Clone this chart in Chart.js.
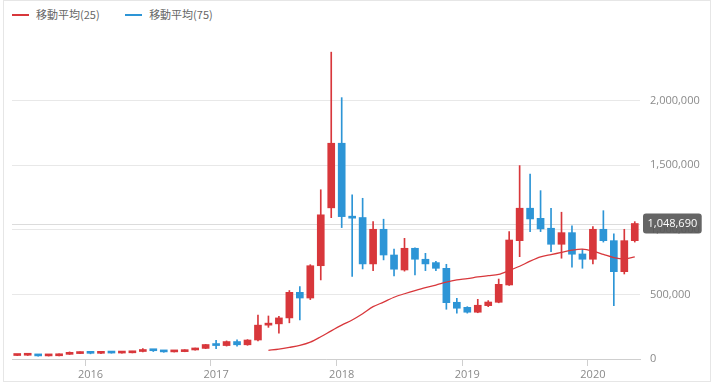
<!DOCTYPE html>
<html>
<head>
<meta charset="utf-8">
<script src="https://cdn.jsdelivr.net/npm/chart.js@4.4.1/dist/chart.umd.min.js"></script>
<style>
  body { margin: 0; background: #fff; }
  #panel {
    position: absolute; left: 3px; top: 0; width: 708px; height: 382px;
    border: 1px solid #e6e6e6; box-sizing: border-box;
  }
  #legend {
    position: absolute; left: 12px; top: 6px;
    font: 11px "Noto Sans CJK JP", sans-serif; color: #666;
  }
  #legend span.item { display: inline-block; margin-right: 23px; }
  #legend span.swatch {
    display: inline-block; width: 17px; height: 1.5px; margin-right: 7px;
    vertical-align: middle; position: relative; top: -1px;
  }
  canvas { position: absolute; left: 0; top: 0; }
</style>
</head>
<body>
<div id="panel"></div>
<div id="legend">
  <span class="item"><span class="swatch" style="background:#d8373b"></span>移動平均(25)</span>
  <span class="item"><span class="swatch" style="background:#2d95d6"></span>移動平均(75)</span>
</div>
<canvas id="chart" width="718" height="385"></canvas>
<script>
// monthly candles, JPY
const months = [
  '2015-06', '2015-07', '2015-08', '2015-09', '2015-10', '2015-11', '2015-12',
  '2016-01', '2016-02', '2016-03', '2016-04', '2016-05', '2016-06',
  '2016-07', '2016-08', '2016-09', '2016-10', '2016-11', '2016-12',
  '2017-01', '2017-02', '2017-03', '2017-04', '2017-05', '2017-06',
  '2017-07', '2017-08', '2017-09', '2017-10', '2017-11', '2017-12',
  '2018-01', '2018-02', '2018-03', '2018-04', '2018-05', '2018-06',
  '2018-07', '2018-08', '2018-09', '2018-10', '2018-11', '2018-12',
  '2019-01', '2019-02', '2019-03', '2019-04', '2019-05', '2019-06',
  '2019-07', '2019-08', '2019-09', '2019-10', '2019-11', '2019-12',
  '2020-01', '2020-02', '2020-03', '2020-04', '2020-05'
];

const opens = [
  27000, 29000, 31000, 24000, 25000, 36000, 42000,
  50000, 44000, 48000, 46000, 48000, 58000,
  68000, 64000, 55000, 57000, 70000, 82000,
  110000, 104000, 135000, 110000, 147000, 262000,
  272000, 318000, 516000, 472000, 722000, 1170000,
  1670000, 1102000, 1095000, 736000, 1004000, 805000,
  689000, 857000, 772000, 746000, 702000, 439000,
  400000, 362000, 413000, 439000, 573000, 916000,
  1167000, 1089000, 1012000, 888000, 978000, 813000,
  772000, 1004000, 916000, 676000, 916000
];
const highs = [
  30000, 36000, 32000, 27000, 40000, 55000, 55000,
  52000, 50000, 49000, 50000, 60000, 80000,
  72000, 65000, 63000, 72000, 84000, 113000,
  145000, 140000, 148000, 150000, 340000, 333000,
  330000, 530000, 560000, 730000, 1310000, 2375000,
  2023000, 1270000, 1244000, 1063000, 1082000, 850000,
  934000, 860000, 818000, 756000, 733000, 470000,
  405000, 462000, 452000, 619000, 986000, 1497000,
  1432000, 1303000, 1167000, 1136000, 1030000, 849000,
  1024000, 1148000, 968000, 1004000, 1063000
];
const lows = [
  26000, 27000, 22000, 23000, 24000, 35000, 41000,
  40000, 42000, 45000, 45000, 47000, 55000,
  58000, 52000, 54000, 56000, 68000, 80000,
  80000, 100000, 100000, 106000, 140000, 245000,
  200000, 280000, 302000, 460000, 612000, 1094000,
  1017000, 640000, 697000, 684000, 767000, 643000,
  680000, 650000, 684000, 684000, 385000, 354000,
  355000, 358000, 405000, 435000, 570000, 792000,
  986000, 986000, 831000, 780000, 710000, 702000,
  736000, 905000, 413000, 658000, 905000
];
const closes = [
  29000, 31000, 24000, 25000, 36000, 42000, 50000,
  44000, 48000, 46000, 48000, 58000, 68000,
  64000, 55000, 57000, 70000, 82000, 112000,
  104000, 135000, 110000, 147000, 262000, 272000,
  318000, 516000, 472000, 722000, 1116000, 1670000,
  1102000, 1090000, 736000, 1004000, 805000, 695000,
  857000, 772000, 736000, 702000, 436000, 393000,
  362000, 416000, 441000, 578000, 921000, 1167000,
  1084000, 1007000, 888000, 978000, 811000, 772000,
  1004000, 916000, 676000, 916000, 1048690
];

// 25 month moving average, no value for the first 24 months
const ma25 = [
  null, null, null, null, null, null, null, null, null, null, null, null,
  null, null, null, null, null, null, null, null, null, null, null, null,
  67000, 77000, 90000, 105000, 130000, 172000, 218000, 262000, 302000, 350000,
  405000, 440000, 478000, 505000, 530000, 553000, 572000, 595000, 612000, 622000,
  635000, 645000, 655000, 685000, 718000, 757000, 790000, 808000, 825000, 842000,
  850000, 835000, 810000, 785000, 775000, 790000
];
// 75 month moving average: not enough months yet
const ma75 = months.map(() => null);

const yTicks = [0, 500000, 1000000, 1500000, 2000000];

const UP = '#d8373b';
const DOWN = '#2d95d6';
const candleColors = closes.map((c, i) => (c >= opens[i] ? UP : DOWN));
const lastPrice = closes[closes.length - 1];

const priceTag = {
  id: 'priceTag',
  beforeDatasetsDraw(chart) {
    const { ctx, chartArea } = chart;
    const y = Math.round(chart.scales.y.getPixelForValue(lastPrice)) + 0.5;
    ctx.save();
    ctx.strokeStyle = '#dcdcdc';
    ctx.lineWidth = 1;
    ctx.beginPath();
    ctx.moveTo(chartArea.left, y);
    ctx.lineTo(chartArea.right, y);
    ctx.stroke();
    ctx.restore();
  },
  afterDatasetsDraw(chart) {
    const { ctx, chartArea } = chart;
    const y = chart.scales.y.getPixelForValue(lastPrice);
    const text = lastPrice.toLocaleString('en-US');
    ctx.save();
    ctx.font = '11px "Open Sans", sans-serif';
    const w = ctx.measureText(text).width + 9;
    const x = chartArea.right + 3;
    ctx.fillStyle = 'rgba(88, 88, 88, 0.92)';
    ctx.beginPath();
    ctx.roundRect(x, y - 10, w, 20, 3);
    ctx.fill();
    ctx.fillStyle = '#fff';
    ctx.textBaseline = 'middle';
    ctx.fillText(text, x + 4.5, y + 0.5);
    ctx.restore();
  }
};

Chart.defaults.font.family = '"Open Sans", sans-serif';
Chart.defaults.font.size = 11;
Chart.defaults.color = '#8a8a8a';

new Chart(document.getElementById('chart'), {
  type: 'bar',
  data: {
    labels: months,
    datasets: [
      {
        type: 'line',
        label: '移動平均(25)',
        data: ma25,
        borderColor: UP,
        borderWidth: 1.3,
        pointRadius: 0,
        tension: 0.3,
        order: 0
      },
      {
        type: 'line',
        label: '移動平均(75)',
        data: ma75,
        borderColor: DOWN,
        borderWidth: 1.3,
        pointRadius: 0,
        order: 0
      },
      {
        label: 'wick',
        data: lows.map((l, i) => [l, highs[i]]),
        backgroundColor: candleColors,
        barThickness: 1,
        grouped: false,
        order: 2
      },
      {
        label: 'body',
        data: opens.map((o, i) => [o, closes[i]]),
        backgroundColor: candleColors,
        barThickness: 7,
        minBarLength: 2,
        grouped: false,
        order: 1
      }
    ]
  },
  options: {
    responsive: false,
    animation: false,
    devicePixelRatio: 1,
    layout: { padding: { top: 36, left: 12, right: 0, bottom: 0 } },
    plugins: {
      legend: { display: false },
      tooltip: { enabled: false }
    },
    scales: {
      x: {
        afterFit: (s) => { s.height = 26; },
        border: { display: true, color: '#cfcfcf' },
        grid: {
          drawOnChartArea: false,
          tickLength: 7,
          color: (ctx) => (months[ctx.index] && months[ctx.index].endsWith('-01') ? '#cfcfcf' : 'rgba(0,0,0,0)')
        },
        ticks: {
          autoSkip: false,
          maxRotation: 0,
          padding: 2,
          callback: (v, i) => (months[i].endsWith('-01') ? months[i].slice(0, 4) : '')
        }
      },
      y: {
        position: 'right',
        min: 0,
        max: 2500000,
        afterFit: (s) => { s.width = 78; },
        afterBuildTicks: (s) => { s.ticks = yTicks.map((v) => ({ value: v })); },
        border: { display: false },
        grid: { color: '#e8e8e8', drawTicks: false },
        ticks: {
          padding: 10,
          callback: (v) => v.toLocaleString('en-US')
        }
      }
    }
  },
  plugins: [priceTag]
});
</script>
</body>
</html>
